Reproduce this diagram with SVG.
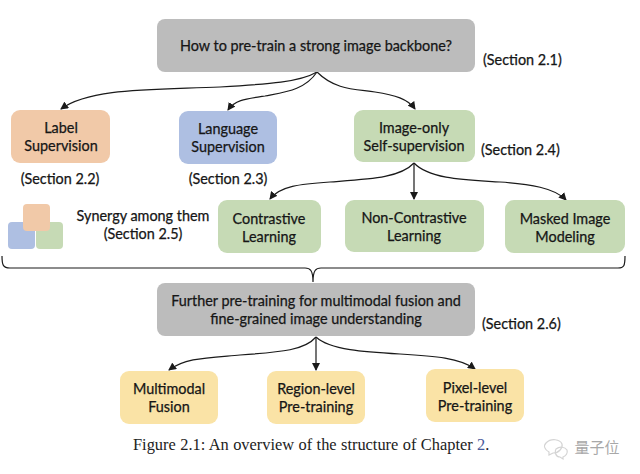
<svg xmlns="http://www.w3.org/2000/svg" width="640" height="474" viewBox="0 0 640 474">
<style>
text{font-family:"Lato","Noto Sans",sans-serif;font-size:14.4px;fill:#161616;stroke:#161616;stroke-width:.25;text-anchor:middle}
.s{text-anchor:start}
.grey{fill:#bcbcbc}.green{fill:#c6dab5}.yellow{fill:#fae3a6}
.c{fill:none;stroke:#1a1a1a;stroke-width:1.2;marker-end:url(#a)}
.b{fill:none;stroke:#1a1a1a;stroke-width:1.2}
.cap{font-family:"Liberation Serif",serif;font-size:16.4px;stroke:none;text-anchor:start;fill:#222;word-spacing:.3px}
</style>
<defs><marker id="a" markerUnits="userSpaceOnUse" markerWidth="9" markerHeight="8" refX="7" refY="4" orient="auto"><path d="M0 0L8 4L0 8Z" fill="#1a1a1a"/></marker></defs>
<rect width="640" height="474" fill="#fff"/>
<g id="connectors">
<path class="c" d="M317 72C300 82 270 84 220 87C150 90 90 88 61 109"/>
<path class="c" d="M317 72C305 90 285 92 265 96C245 99 235 100 228 110"/>
<path class="c" d="M317 72C335 90 355 89 375 92C395 95 408 99 415 109"/>
<path class="c" d="M414 163C400 178 370 179 330 182C300 184 280 186 270 199"/>
<path class="c" d="M414 163V199"/>
<path class="c" d="M414 163C430 180 470 180 500 182C530 184 555 188 566 200"/>
<path class="c" d="M316 337C305 350 283 352 240 355C205 358 185 358 169 370"/>
<path class="c" d="M316 337V370"/>
<path class="c" d="M316 337C330 350 365 352 400 354C435 356 460 358 475 369"/>
<path class="b" d="M2 256C2 265 3 268 10 268H305C310 268 313 270 313 282M313 282C313 270 316 268 321 268H618C624 268 625 266 625 256"/>
</g>
<g id="top"><rect class="grey" x="157" y="19" width="318" height="53" rx="8"/><text x="316" y="51">How to pre-train a strong image backbone?</text></g>
<g id="label"><rect fill="#f1c9a8" x="11" y="110" width="99" height="53" rx="9"/><text x="61" y="133">Label</text><text x="61" y="151">Supervision</text></g>
<g id="language"><rect fill="#aebfe2" x="179" y="111" width="98" height="53" rx="9"/><text x="228" y="134">Language</text><text x="228" y="152">Supervision</text></g>
<g id="imageonly"><rect class="green" x="354" y="110" width="121" height="52" rx="9"/><text x="414" y="133">Image-only</text><text x="414" y="151">Self-supervision</text></g>
<g id="contrastive"><rect class="green" x="218" y="200" width="103" height="53" rx="9"/><text x="269" y="224">Contrastive</text><text x="269" y="242">Learning</text></g>
<g id="noncontrastive"><rect class="green" x="345" y="200" width="139" height="52" rx="9"/><text x="414" y="223">Non-Contrastive</text><text x="414" y="241">Learning</text></g>
<g id="masked"><rect class="green" x="505" y="200" width="120" height="53" rx="9"/><text x="565" y="224">Masked Image</text><text x="565" y="242">Modeling</text></g>
<g id="further"><rect class="grey" x="157" y="283" width="318" height="53" rx="8"/><text x="316" y="306">Further pre-training for multimodal fusion and</text><text x="316" y="324">fine-grained image understanding</text></g>
<g id="multimodal"><rect class="yellow" x="120" y="371" width="98" height="53" rx="9"/><text x="169" y="394">Multimodal</text><text x="169" y="412">Fusion</text></g>
<g id="region"><rect class="yellow" x="267" y="371" width="98" height="53" rx="9"/><text x="316" y="394">Region-level</text><text x="316" y="412">Pre-training</text></g>
<g id="pixel"><rect class="yellow" x="426" y="369" width="98" height="53" rx="9"/><text x="475" y="393">Pixel-level</text><text x="475" y="411">Pre-training</text></g>
<g id="synergy-icon"><rect fill="#aebfe2" x="8" y="222" width="27" height="27" rx="4"/><rect fill="#c6dab5" x="36" y="222" width="27" height="27" rx="4"/><rect fill="#f1c9a8" x="23" y="204" width="27" height="27" rx="4"/></g>
<text x="143" y="221">Synergy among them</text><text x="143" y="239">(Section 2.5)</text>
<text x="60" y="184">(Section 2.2)</text>
<text x="228" y="184">(Section 2.3)</text>
<text class="s" x="483" y="65">(Section 2.1)</text>
<text class="s" x="481" y="155">(Section 2.4)</text>
<text class="s" x="482" y="329">(Section 2.6)</text>
<text class="cap" x="133" y="450">Figure 2.1: An overview of the structure of Chapter <tspan fill="#4a5a9a">2</tspan>.</text>
<g id="watermark"><path d="M546 443c5-5 14-4 16 1 1 4-3 9-9 9l-4 2 0-3c-4-2-6-6-3-9Z" fill="none" stroke="#d4d4d4" stroke-width="1.2"/><path d="M556 449c4-3 9-2 11 1 1 3-1 6-4 7l0 2-3-2c-4 0-6-5-4-8Z" fill="none" stroke="#d4d4d4" stroke-width="1.2"/><text x="597" y="453" style="font-family:'Noto Sans CJK SC',sans-serif;font-size:15px;fill:#a8a8a8;stroke:none">量子位</text></g>
</svg>
